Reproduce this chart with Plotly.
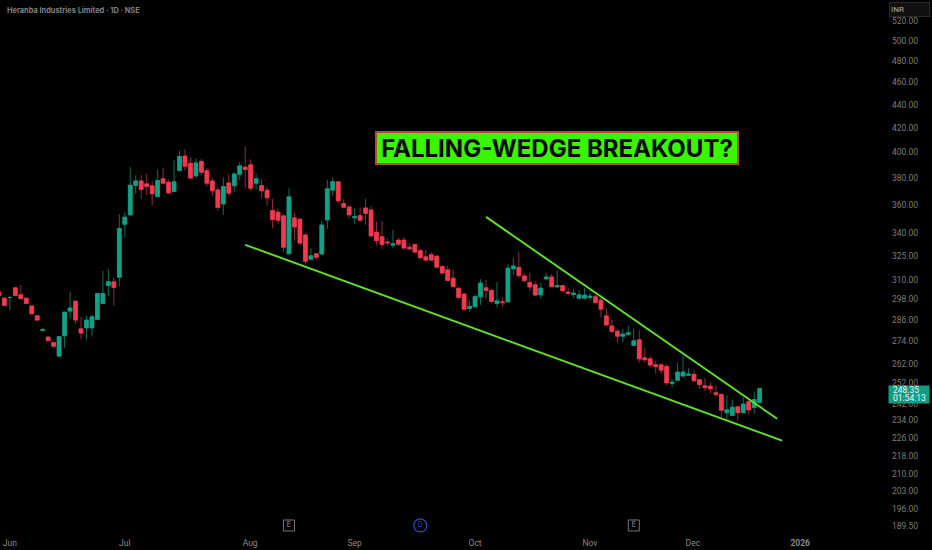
import plotly.graph_objects as go

TITLE = "Heranba Industries Limited · 1D · NSE"
BANNER = "FALLING-WEDGE BREAKOUT?"

opens = [301.2,297.6,298.0,303.8,299.6,297.6,293.0,287.3,279.0,275.3,
         272.3,265.0,276.0,290.0,295.8,279.9,280.4,280.4,285.2,294.4,
         305.2,307.5,310.3,345.0,351.5,372.8,376.2,374.0,372.5,364.6,
         377.8,375.2,368.3,384.1,395.4,389.7,380.0,391.2,384.0,376.2,
         369.5,359.3,374.7,372.5,381.3,386.7,388.5,374.5,372.8,369.3,
         354.5,353.4,350.8,325.2,349.4,348.5,337.7,321.7,325.2,325.0,
         348.0,369.3,375.5,359.5,357.1,349.4,351.0,356.4,355.0,339.6,
         336.4,333.0,330.8,334.2,334.2,329.5,331.3,327.2,323.2,324.6,
         323.7,317.0,314.9,309.7,303.6,300.0,291.5,292.5,298.4,303.8,
         302.2,294.4,295.4,295.4,315.5,316.5,311.1,307.1,305.7,299.6,
         309.3,310.5,304.4,305.2,301.2,299.8,297.6,297.6,298.0,298.4,
         296.4,287.2,281.5,278.6,275.8,276.8,270.7,273.8,264.1,263.6,
         260.5,260.5,259.6,250.9,252.6,254.7,255.1,255.6,252.8,249.8,
         249.6,246.3,245.5,236.7,235.4,239.5,236.7,242.0,239.2,241.6]
highs = [301.5,298.0,299.0,304.0,305.4,297.9,293.3,287.6,280.3,275.6,
         272.6,275.8,289.6,301.2,296.0,286.7,287.1,287.9,301.0,314.3,
         315.3,310.3,351.9,353.4,386.9,380.5,380.7,381.5,376.2,385.0,
         386.0,377.0,392.0,399.7,400.7,394.4,393.6,393.0,385.9,378.3,
         372.0,378.8,381.5,382.8,390.8,403.0,392.8,381.5,377.5,372.0,
         363.0,356.2,351.5,370.8,353.0,349.0,338.8,329.0,325.5,347.3,
         377.0,378.8,376.0,363.0,358.5,356.2,356.7,363.0,357.8,346.6,
         347.3,335.0,341.1,335.5,336.2,332.2,331.8,328.4,327.8,326.3,
         324.0,317.3,317.5,314.9,304.0,300.5,296.2,299.6,309.1,308.7,
         303.0,307.5,298.0,318.5,322.4,326.3,312.9,312.9,307.7,307.1,
         312.9,312.4,314.5,305.5,303.6,303.0,302.2,303.6,300.6,299.6,
         298.6,291.7,285.0,279.7,279.9,281.6,280.0,279.3,269.3,265.0,
         262.6,261.2,260.8,253.3,261.7,265.3,258.6,257.9,253.0,253.7,
         251.6,250.0,245.8,245.3,242.9,239.8,244.2,242.9,246.9,248.5]
lows = [299.0,293.0,290.5,299.0,297.2,294.2,288.2,284.6,278.7,273.2,
        270.1,264.8,269.5,285.8,282.7,274.4,274.0,275.6,285.0,294.0,
        299.0,293.2,304.6,336.2,351.0,366.6,363.0,365.8,358.3,364.0,
        374.0,366.6,368.0,384.0,384.1,377.5,379.0,380.7,372.0,365.0,
        354.5,351.5,365.0,368.0,376.5,370.8,368.8,370.0,363.4,358.0,
        342.5,345.0,326.0,325.0,333.7,330.6,318.2,320.7,321.3,324.5,
        341.5,365.0,359.8,356.0,349.1,345.3,346.9,344.5,336.8,331.1,
        328.2,330.4,328.9,331.0,328.5,327.4,325.8,321.7,320.8,320.8,
        316.0,312.5,308.0,304.0,296.6,290.1,289.6,292.0,293.6,297.2,
        294.6,292.0,292.6,295.0,311.8,309.7,307.1,302.0,298.6,297.4,
        308.7,304.2,303.8,301.7,299.6,297.6,297.4,297.4,296.2,294.6,
        286.3,281.8,277.5,272.0,272.5,276.0,270.5,261.6,261.6,259.1,
        255.9,255.9,250.2,249.0,252.0,254.0,255.0,252.0,248.2,247.0,
        245.8,244.0,234.5,233.4,235.0,233.0,236.4,235.8,236.0,241.4]
closes = [299.2,293.2,298.0,299.2,297.4,294.4,288.4,284.8,279.5,273.4,
          270.3,275.6,289.4,291.8,284.8,277.5,284.8,286.7,300.4,300.4,
          307.5,304.0,342.0,349.9,373.0,376.2,369.7,372.0,366.6,376.5,
          374.5,367.3,375.5,395.0,387.4,378.3,390.0,382.8,374.5,368.8,
          356.7,372.0,367.1,381.5,387.7,384.9,370.8,377.8,368.8,363.7,
          348.2,347.8,329.5,364.4,343.1,332.2,320.3,323.9,323.0,344.5,
          370.3,375.7,361.5,356.9,351.5,350.3,347.8,352.4,337.0,333.8,
          331.3,332.4,331.7,331.5,328.9,328.4,326.3,322.6,321.1,321.1,
          316.6,312.9,308.3,304.6,298.0,291.1,292.8,298.6,306.7,302.2,
          295.6,296.0,295.0,316.0,317.4,311.3,308.3,304.3,299.4,303.6,
          310.5,304.6,305.2,302.0,300.4,300.6,299.6,299.4,298.8,295.0,
          291.1,282.1,278.4,275.8,277.0,277.7,273.3,263.6,263.1,260.3,
          259.5,257.7,251.2,251.6,256.7,256.7,255.6,252.3,250.4,248.8,
          248.3,245.5,237.8,238.1,239.3,236.7,240.8,238.0,243.0,248.35]
bar_index = list(range(len(opens)))

price_ticks = [520,500,480,460,440,420,400,380,360,340,325,310,298,286,274,
               262,252,242,234,226,218,210,203,196,189.5]
price_labels = ["%.2f" % v for v in price_ticks]
month_ticks = [2, 23, 45.9, 65, 87, 108, 126.8, 146.4]
month_labels = ["Jun","Jul","Aug","Sep","Oct","Nov","Dec","<b>2026</b>"]

lower_x = [45, 143.1]
lower_y = [331.1, 223.8]
upper_x = [89, 142.2]
upper_y = [350.1, 233.8]

earn_x = [53, 116]
earn_y = [188.9, 188.9]
div_x = [77]
div_y = [188.9]

GREEN, RED, LIME, GREY = "#12a087", "#f23a4e", "#5fe61a", "#7c7c7c"

fig = go.Figure()
# wicks, dim like the reference
fig.add_trace(go.Candlestick(
    x=bar_index, open=opens, high=highs, low=lows, close=closes,
    increasing=dict(fillcolor=GREEN, line=dict(color="#0c6f5e", width=1)),
    decreasing=dict(fillcolor=RED, line=dict(color="#93293a", width=1)),
    whiskerwidth=0, hoverinfo="skip"))
# bright bodies drawn over the same open and close values
fig.add_trace(go.Candlestick(
    x=bar_index, open=opens, close=closes,
    high=[max(a, b) for a, b in zip(opens, closes)],
    low=[min(a, b) for a, b in zip(opens, closes)],
    increasing=dict(fillcolor=GREEN, line=dict(color=GREEN, width=0.5)),
    decreasing=dict(fillcolor=RED, line=dict(color=RED, width=0.5)),
    whiskerwidth=0, hoverinfo="skip"))
for xs, ys in ((lower_x, lower_y), (upper_x, upper_y)):
    fig.add_trace(go.Scatter(x=xs, y=ys, mode="lines",
                             line=dict(color=LIME, width=1.9), hoverinfo="skip"))
fig.add_trace(go.Scatter(x=earn_x, y=earn_y, mode="markers+text", text=["E", "E"],
                         textposition="middle center", cliponaxis=False,
                         textfont=dict(color="#9a9a9a", size=7, family="Inter"),
                         marker=dict(symbol="square-open", size=11, color="#777777",
                                     line=dict(width=1, color="#777777")),
                         hoverinfo="skip"))
fig.add_trace(go.Scatter(x=div_x, y=div_y, mode="markers+text", text=["D"],
                         textposition="middle center", cliponaxis=False,
                         textfont=dict(color="#2f4fc8", size=7, family="Inter"),
                         marker=dict(symbol="circle-open", size=13, color="#2f4fc8",
                                     line=dict(width=1.2, color="#2f4fc8")),
                         hoverinfo="skip"))

fig.update_layout(
    width=932, height=550, autosize=False,
    margin=dict(l=0, r=47, t=0, b=20),
    paper_bgcolor="#000000", plot_bgcolor="#000000",
    showlegend=False, boxgap=0.0, boxmode="overlay",
    font=dict(family="Roboto", color=GREY, size=8.5),
    xaxis=dict(range=[0.2, 161.9], rangeslider=dict(visible=False), showgrid=False,
               zeroline=False, showline=False, ticks="", tickmode="array",
               tickvals=month_ticks, ticktext=month_labels, ticklabelstandoff=6,
               tickfont=dict(size=8.5, color="#8a8a8a", family="Roboto")),
    yaxis=dict(type="log", range=[2.2723, 2.7325], side="right", showgrid=False,
               zeroline=False, showline=False, ticks="", tickmode="array",
               tickvals=price_ticks, ticktext=price_labels, ticklabelstandoff=6,
               ticklabelshift=2,
               tickfont=dict(size=8.5, color=GREY, family="Roboto")),
    annotations=[
        dict(xref="paper", yref="paper", x=0.0055, y=1.0, yshift=-4, xanchor="left", yanchor="top",
             text="<b>" + TITLE + "</b>", showarrow=False,
             font=dict(size=7.4, color="#808080", family="Inter")),
        dict(xref="paper", yref="paper", x=0.4237, y=1, yshift=-131, xanchor="left", yanchor="top",
             text="<b>" + BANNER + "</b>", showarrow=False, width=360, height=30,
             bgcolor="#39f500", bordercolor="#b5483c", borderwidth=2, borderpad=0,
             font=dict(size=24, color="#0a0a0a", family="Inter")),
        dict(xref="paper", yref="paper", x=1.0035, y=1, yshift=-385, xanchor="left", yanchor="top",
             text=" ", showarrow=False, width=40, height=17, borderpad=0, bgcolor="#0e9d85"),
        dict(xref="paper", yref="paper", x=1.0075, y=1, yshift=-384, xanchor="left", yanchor="top",
             text="248.35", showarrow=False, borderpad=0,
             font=dict(size=8.5, color="#e8f5f2", family="Roboto")),
        dict(xref="paper", yref="paper", x=1.0075, y=1, yshift=-392, xanchor="left", yanchor="top",
             text="01:54:13", showarrow=False, borderpad=0,
             font=dict(size=8.5, color="#e8f5f2", family="Roboto")),
        dict(xref="paper", yref="paper", x=1.0045, y=1, yshift=-2, xanchor="left", yanchor="top",
             text="INR", showarrow=False, align="left", width=37, height=11,
             bgcolor="#101010", bordercolor="#2a2a2a", borderwidth=1,
             font=dict(size=8, color="#b0b0b0", family="Roboto")),
    ],
)
fig.write_html("out.html", config=dict(displayModeBar=False),
               post_script="document.body.style.margin='0';document.body.style.background='#000';")
